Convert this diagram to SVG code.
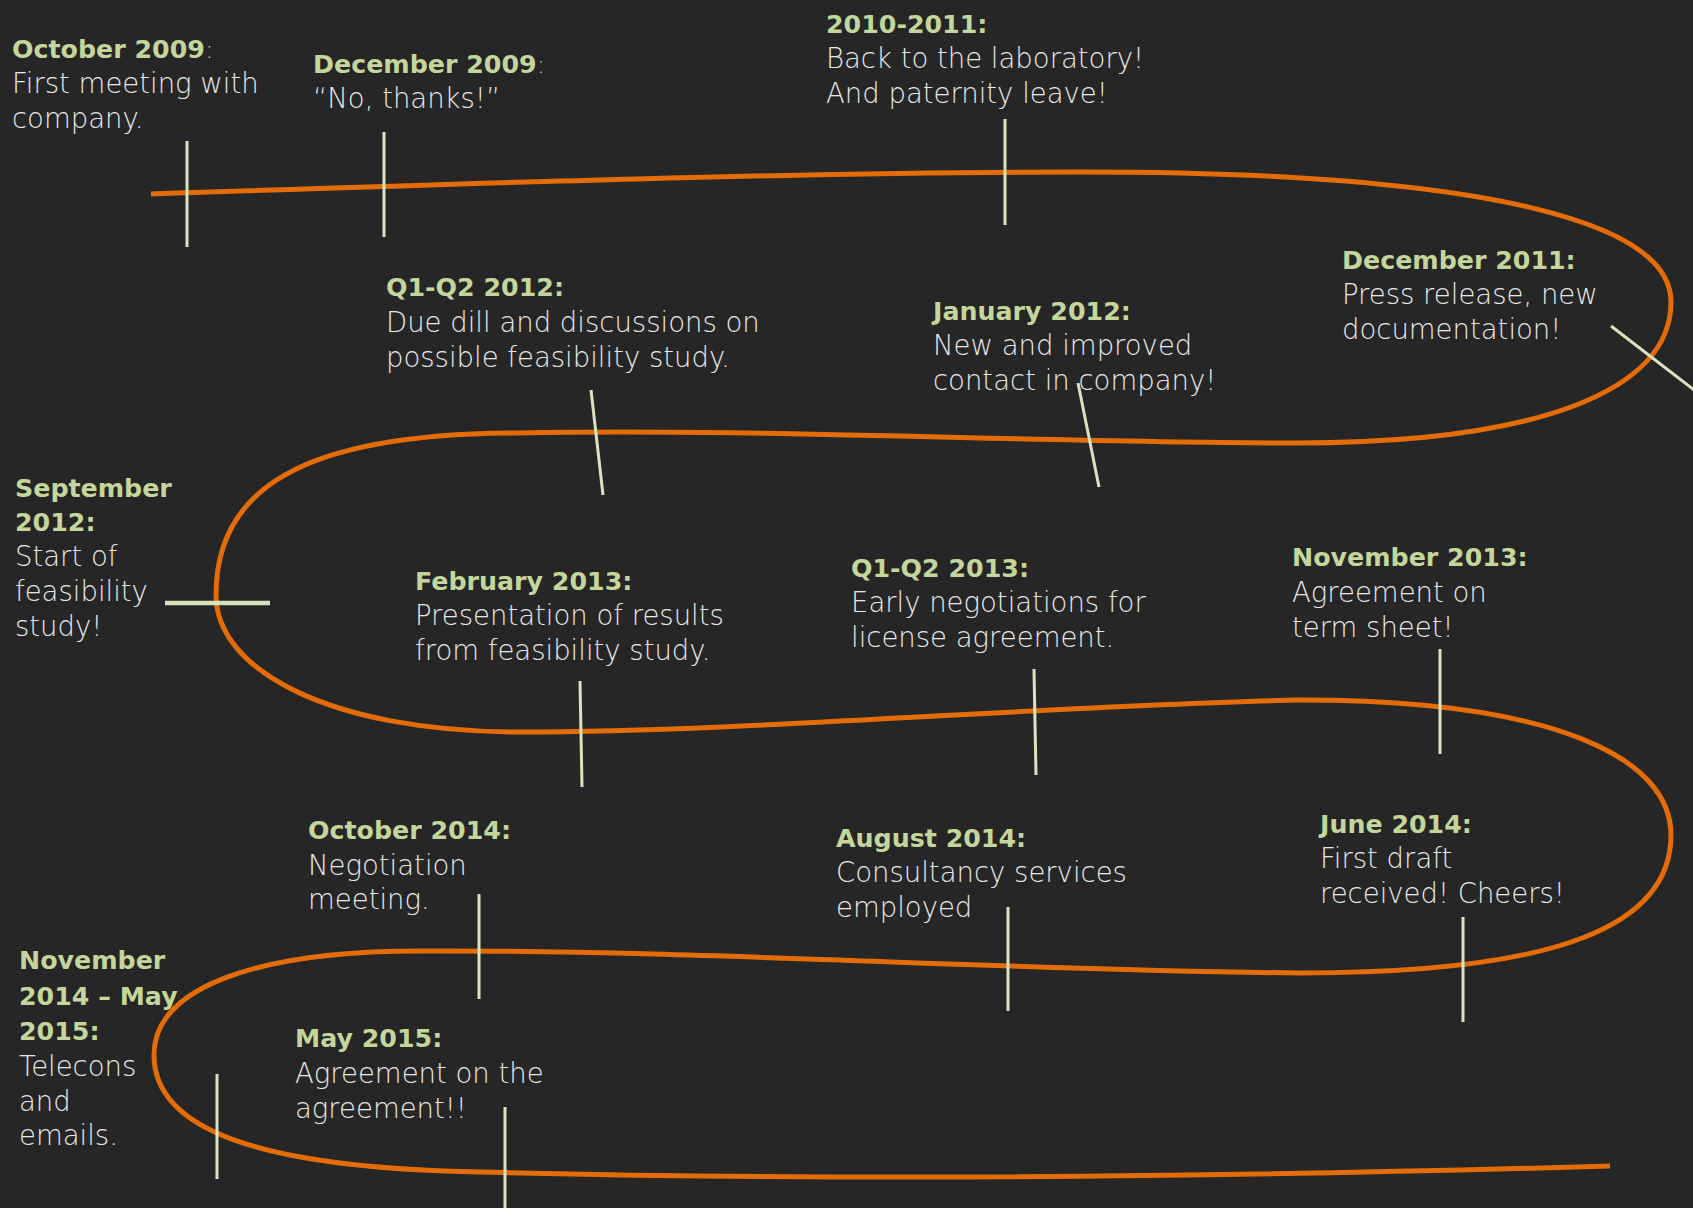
<svg xmlns="http://www.w3.org/2000/svg" width="1693" height="1208" viewBox="0 0 1693 1208">
<style>
text{font-family:"DejaVu Sans","Liberation Sans",sans-serif;font-size:27.5px;fill:#e8e8e8;font-weight:300}
.h{font-weight:bold;fill:#c3d69b;font-size:25.3px}
.tick{stroke:#d7e4bd;stroke-width:3;fill:none}
.road{stroke:#e36c09;stroke-width:5;fill:none}
</style>
<rect width="1693" height="1208" fill="#262626"/>
<g id="connectors">
<path class="road" d="M151,194 C450,184 800,172 1080,172 C1500,172 1671,225 1671,302 C1671,390 1540,443 1296,443 C1050,443 750,428 520,433 C300,433 216,490 216,595 C216,670 330,732 520,732 C750,732 1050,705 1300,700 C1560,700 1671,760 1671,835 C1671,925 1560,973 1300,973 C1000,970 700,950 420,951 C250,951 154,990 154,1055 C154,1130 260,1168 480,1172 C800,1180 1200,1178 1610,1166"/>
</g>
<g id="oct2009"><line class="tick" x1="187" y1="141" x2="187" y2="247"/>
<text x="12" y="58"><tspan class="h">October 2009</tspan><tspan fill="#c3d69b" font-size="25.3px">:</tspan></text>
<text x="12" y="93">First meeting with</text><text x="12" y="128">company.</text></g>
<g id="dec2009"><line class="tick" x1="384" y1="132" x2="384" y2="237"/>
<text x="313" y="73"><tspan class="h">December 2009</tspan><tspan fill="#c3d69b" font-size="25.3px">:</tspan></text>
<text x="313" y="108">“No, thanks!”</text></g>
<g id="y2010"><line class="tick" x1="1005" y1="119" x2="1005" y2="225"/>
<text class="h" x="826" y="33">2010-2011:</text>
<text x="826" y="68">Back to the laboratory!</text><text x="826" y="103">And paternity leave!</text></g>
<g id="dec2011"><line class="tick" x1="1611" y1="326" x2="1720" y2="410"/>
<text class="h" x="1342" y="269">December 2011:</text>
<text x="1342" y="304">Press release, new</text><text x="1342" y="339">documentation!</text></g>
<g id="jan2012"><line class="tick" x1="1078" y1="383" x2="1099" y2="487"/>
<text class="h" x="933" y="320">January 2012:</text>
<text x="933" y="355">New and improved</text><text x="933" y="390">contact in company!</text></g>
<g id="q2012"><line class="tick" x1="591" y1="390" x2="603" y2="495"/>
<text class="h" x="386" y="296">Q1-Q2 2012:</text>
<text x="386" y="332">Due dill and discussions on</text><text x="386" y="367">possible feasibility study.</text></g>
<g id="sep2012"><line class="tick" x1="165" y1="603" x2="270" y2="603" style="stroke-width:4.5"/>
<text class="h" x="15" y="497">September</text><text class="h" x="15" y="531">2012:</text>
<text x="15" y="566">Start of</text><text x="15" y="601">feasibility</text><text x="15" y="636">study!</text></g>
<g id="feb2013"><line class="tick" x1="580" y1="681" x2="582" y2="787"/>
<text class="h" x="415" y="590">February 2013:</text>
<text x="415" y="625">Presentation of results</text><text x="415" y="660">from feasibility study.</text></g>
<g id="q2013"><line class="tick" x1="1034" y1="669" x2="1036" y2="775"/>
<text class="h" x="851" y="577">Q1-Q2 2013:</text>
<text x="851" y="612">Early negotiations for</text><text x="851" y="647">license agreement.</text></g>
<g id="nov2013"><line class="tick" x1="1440" y1="649" x2="1440" y2="754"/>
<text class="h" x="1292" y="566">November 2013:</text>
<text x="1292" y="602">Agreement on</text><text x="1292" y="637">term sheet!</text></g>
<g id="jun2014"><line class="tick" x1="1463" y1="917" x2="1463" y2="1022"/>
<text class="h" x="1320" y="833">June 2014:</text>
<text x="1320" y="868">First draft</text><text x="1320" y="903">received! Cheers!</text></g>
<g id="aug2014"><line class="tick" x1="1008" y1="907" x2="1008" y2="1011"/>
<text class="h" x="836" y="847">August 2014:</text>
<text x="836" y="882">Consultancy services</text><text x="836" y="917">employed</text></g>
<g id="oct2014"><line class="tick" x1="479" y1="894" x2="479" y2="999"/>
<text class="h" x="308" y="839">October 2014:</text>
<text x="308" y="875">Negotiation</text><text x="308" y="909">meeting.</text></g>
<g id="nov2014"><line class="tick" x1="217" y1="1074" x2="217" y2="1179"/>
<text class="h" x="19" y="969">November</text><text class="h" x="19" y="1005">2014 – May</text><text class="h" x="19" y="1040">2015:</text>
<text x="19" y="1076">Telecons</text><text x="19" y="1111">and</text><text x="19" y="1145">emails.</text></g>
<g id="may2015"><line class="tick" x1="505" y1="1107" x2="505" y2="1210"/>
<text class="h" x="295" y="1047">May 2015:</text>
<text x="295" y="1083">Agreement on the</text><text x="295" y="1118">agreement!!</text></g>
</svg>
